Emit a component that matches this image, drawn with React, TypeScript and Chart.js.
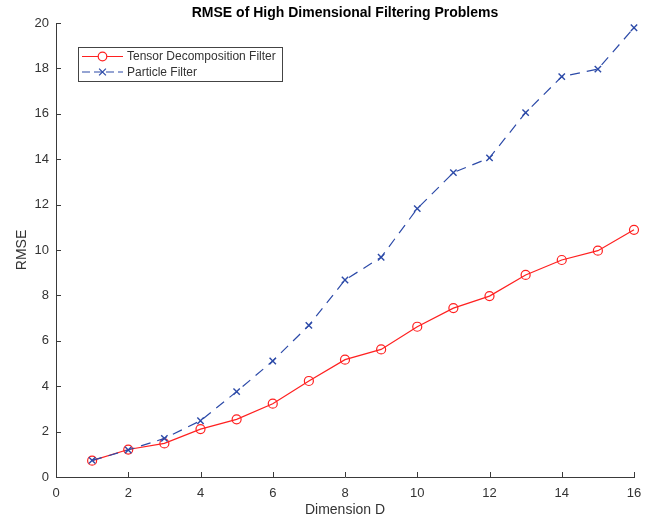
import React, { useEffect, useRef } from "react";
import { Chart, registerables } from "chart.js";

Chart.register(...registerables);

const dims = [1, 2, 3, 4, 5, 6, 7, 8, 9, 10, 11, 12, 13, 14, 15, 16];
const tensorFilter = [0.72, 1.21, 1.48, 2.11, 2.54, 3.23, 4.23, 5.17, 5.62, 6.62, 7.44, 7.97, 8.9, 9.56, 9.97, 10.89];
const particleFilter = [0.73, 1.19, 1.7, 2.48, 3.76, 5.11, 6.68, 8.68, 9.68, 11.82, 13.41, 14.06, 16.05, 17.64, 17.97, 19.79];
const seriesNames = ["Tensor Decomposition Filter", "Particle Filter"];
const titleText = "RMSE of High Dimensional Filtering Problems";
const xLabel = "Dimension D";
const yLabel = "RMSE";

const RED = "#ff2020";
const BLUE = "#2c4aa8";
const AXIS = "#3a3a3a";
const TEXT = "#333333";
const FONT = "'Liberation Sans', Arial, Helvetica, sans-serif";

const inwardTicks = {
  id: "inwardTicks",
  afterDraw(chart: any) {
    const { ctx, chartArea } = chart;
    const xs = chart.scales.x;
    const ys = chart.scales.y;
    ctx.save();
    ctx.strokeStyle = AXIS;
    ctx.lineWidth = 1;
    ctx.beginPath();
    xs.ticks.forEach((t: any) => {
      const px = Math.round(xs.getPixelForValue(t.value)) + 0.5;
      ctx.moveTo(px, chartArea.bottom);
      ctx.lineTo(px, chartArea.bottom - 5);
    });
    ys.ticks.forEach((t: any) => {
      const py = Math.round(ys.getPixelForValue(t.value)) + 0.5;
      ctx.moveTo(chartArea.left, py);
      ctx.lineTo(chartArea.left + 5, py);
    });
    ctx.stroke();
    ctx.restore();
  },
};

const boxLegend = {
  id: "boxLegend",
  afterDraw(chart: any) {
    const { ctx, chartArea } = chart;
    const x0 = chartArea.left + 22;
    const y0 = chartArea.top + 24;
    const w = 204;
    const h = 34;
    ctx.save();
    ctx.fillStyle = "#ffffff";
    ctx.fillRect(x0, y0, w, h);
    ctx.strokeStyle = "#444";
    ctx.lineWidth = 1;
    ctx.strokeRect(Math.round(x0) + 0.5, Math.round(y0) + 0.5, w, h);
    ctx.font = `12px ${FONT}`;
    ctx.textBaseline = "middle";
    ctx.fillStyle = TEXT;
    const rows = [
      { y: y0 + 9.5, color: RED, dash: [] as number[], marker: "circle" },
      { y: y0 + 25, color: BLUE, dash: [8, 4], marker: "x" },
    ];
    rows.forEach((r, i) => {
      const lx1 = x0 + 4;
      const lx2 = x0 + 45;
      const mx = (lx1 + lx2) / 2;
      ctx.strokeStyle = r.color;
      ctx.lineWidth = 1.2;
      ctx.setLineDash(r.dash);
      ctx.beginPath();
      ctx.moveTo(lx1, r.y);
      ctx.lineTo(lx2, r.y);
      ctx.stroke();
      ctx.setLineDash([]);
      ctx.beginPath();
      if (r.marker === "circle") {
        ctx.fillStyle = "#fff";
        ctx.arc(mx, r.y, 4.3, 0, Math.PI * 2);
        ctx.fill();
        ctx.stroke();
      } else {
        const d = 3.4;
        ctx.moveTo(mx - d, r.y - d);
        ctx.lineTo(mx + d, r.y + d);
        ctx.moveTo(mx + d, r.y - d);
        ctx.lineTo(mx - d, r.y + d);
        ctx.stroke();
      }
      ctx.fillStyle = TEXT;
      ctx.fillText(seriesNames[i], x0 + 49, r.y + 0.5);
    });
    ctx.restore();
  },
};

export default function App() {
  const ref = useRef<HTMLCanvasElement | null>(null);

  useEffect(() => {
    if (!ref.current) return;
    const chart = new Chart(ref.current, {
      type: "line",
      data: {
        datasets: [
          {
            label: seriesNames[1],
            data: dims.map((d, i) => ({ x: d, y: particleFilter[i] })),
            borderColor: BLUE,
            backgroundColor: "rgba(0,0,0,0)",
            borderWidth: 1.2,
            borderDash: [10, 7],
            pointStyle: "crossRot",
            pointRadius: 4.5,
            pointBorderColor: BLUE,
            pointBorderWidth: 1.4,
            pointHoverRadius: 4.5,
            tension: 0,
            clip: false,
            order: 0,
          },
          {
            label: seriesNames[0],
            data: dims.map((d, i) => ({ x: d, y: tensorFilter[i] })),
            borderColor: RED,
            backgroundColor: "rgba(0,0,0,0)",
            borderWidth: 1.2,
            pointStyle: "circle",
            pointRadius: 4.5,
            pointBorderColor: RED,
            pointBackgroundColor: "rgba(0,0,0,0)",
            pointBorderWidth: 1.2,
            pointHoverRadius: 4.5,
            tension: 0,
            clip: false,
            order: 1,
          },
        ],
      },
      options: {
        responsive: false,
        animation: false,
        events: [],
        layout: { padding: { left: 0, right: 20, top: 0, bottom: 0 } },
        plugins: {
          legend: { display: false },
          tooltip: { enabled: false },
          title: {
            display: true,
            text: titleText,
            fullSize: false,
            color: "#000",
            font: { family: FONT, size: 14, weight: "bold" },
            padding: { top: 5, bottom: 1.2 },
          },
        },
        scales: {
          x: {
            type: "linear",
            min: 0,
            max: 16,
            afterFit: (s: any) => {
              s.height = 44;
            },
            ticks: {
              stepSize: 2,
              color: TEXT,
              padding: 9,
              maxRotation: 0,
              font: { family: FONT, size: 13 },
            },
            grid: { display: false, drawTicks: false },
            border: { display: true, color: AXIS, width: 1 },
            title: {
              display: true,
              text: xLabel,
              color: TEXT,
              font: { family: FONT, size: 14 },
              padding: { top: 0, bottom: 2 },
            },
          },
          y: {
            type: "linear",
            min: 0,
            max: 20,
            afterFit: (s: any) => {
              s.width = 56;
            },
            ticks: {
              stepSize: 2,
              color: TEXT,
              padding: 7,
              font: { family: FONT, size: 13 },
            },
            grid: { display: false, drawTicks: false },
            border: { display: true, color: AXIS, width: 1 },
            title: {
              display: true,
              text: yLabel,
              color: TEXT,
              font: { family: FONT, size: 14 },
              padding: { top: 14, bottom: 0 },
            },
          },
        },
      },
      plugins: [inwardTicks, boxLegend],
    });
    return () => chart.destroy();
  }, []);

  return (
    <div style={{ position: "absolute", left: 0, top: 0, width: 654, height: 521, background: "#fff" }}>
      <canvas ref={ref} width={654} height={521} style={{ display: "block" }} />
    </div>
  );
}
